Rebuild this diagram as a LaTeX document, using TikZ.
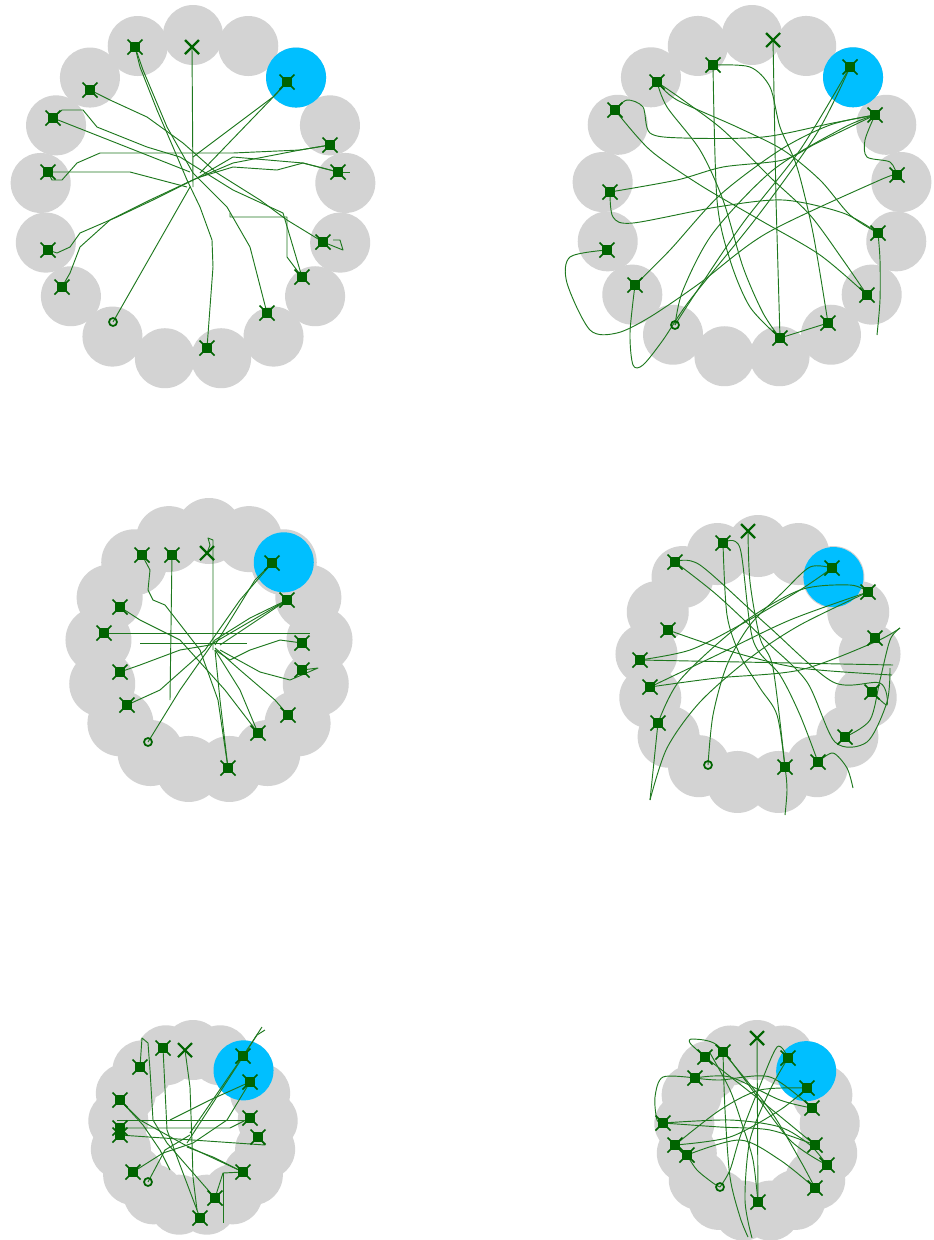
\documentclass[tikz,border=0pt]{standalone}
\usepackage{tikz}

\definecolor{ringgray}{RGB}{211,211,211}
\definecolor{goalblue}{RGB}{0,191,255}
\definecolor{pathgreen}{RGB}{30,120,30}
\definecolor{markgreen}{RGB}{0,100,0}

\tikzset{
  traj/.style={pathgreen, line width=0.7pt, line join=round},
  hitmark/.pic={
    \fill[markgreen] (-5,-5) rectangle (5,5);
    \draw[markgreen, line width=1.3pt] (-7.5,-7.5) -- (7.5,7.5) (-7.5,7.5) -- (7.5,-7.5);
  },
  endmark/.pic={
    \draw[markgreen, line width=1.6pt] (-7,-7) -- (7,7) (-7,7) -- (7,-7);
  },
  homemark/.pic={
    \draw[markgreen, line width=1.3pt] (0,0) circle [radius=4];
  }
}

% ring of 17 grey discs, the goal disc in light blue
% #1,#2 centre, #3,#4 ring radii, #5 disc radius
\newcommand{\ringpanel}[5]{%
  \foreach \k in {0,...,16}
    \fill[ringgray] ({#1+#3*cos(90+\k*360/17)},{#2-#4*sin(90+\k*360/17)})
      circle [radius=#5];
  \fill[goalblue] ({#1+#3*cos(47.65)},{#2-#4*sin(47.65)}) circle [radius=30];
}

\begin{document}
\begin{tikzpicture}[x=0.75pt, y=-0.75pt]

\useasboundingbox (0,0) rectangle (933,1240);

% The six arenas (pixel coordinates, y downwards)
\ringpanel{193}{198}{153}{163}{30}
\ringpanel{752}{197}{150}{162}{30}
\ringpanel{209}{651}{111}{120}{33}
\ringpanel{758}{665}{112}{119}{31}
\ringpanel{193}{1128}{75}{78}{30}
\ringpanel{757}{1131}{73}{81}{30}

% ---------------------------------------------------------------
% Panel a (top left)
\coordinate (a0)  at (192,47);
\coordinate (ao)  at (113,322);
\coordinate (ag)  at (287,82);
\coordinate (a1)  at (135,47);
\coordinate (a2)  at (90,90);
\coordinate (a3)  at (53,118);
\coordinate (a4)  at (48,172);
\coordinate (a5)  at (48,250);
\coordinate (a6)  at (62,287);
\coordinate (a7)  at (207,348);
\coordinate (a8)  at (267,313);
\coordinate (a9)  at (302,277);
\coordinate (a10) at (323,242);
\coordinate (a11) at (338,172);
\coordinate (a12) at (330,145);

\draw[traj] (a0) -- (193,187);
\draw[traj] (a1) -- (140,67) -- (157,110) -- (173,147) -- (187,180)
            -- (200,207) -- (212,240) -- (213,267) -- (a7);
\draw[traj] (a1) -- (143,70) -- (167,127) -- (193,173) -- (227,207)
            -- (250,247) -- (a8);
\draw[traj] (a2) -- (110,100) -- (147,117) -- (183,143) -- (217,173)
            -- (260,200) -- (287,220) -- (a10);
\draw[traj] (a3) -- (62,110) -- (83,110) -- (97,127) -- (147,147)
            -- (180,157) -- (233,190) -- (283,213) -- (a9);
\draw[traj] (a3) -- (190,172);
\draw[traj] (a4) -- (52,180) -- (62,180) -- (77,163) -- (100,153)
            -- (233,153) -- (300,150) -- (a12);
\draw[traj] (a4) -- (130,172) -- (187,187);
\draw[traj] (a5) -- (57,253) -- (70,247) -- (80,233) -- (117,217)
            -- (153,200) -- (193,180) -- (233,163) -- (300,150) -- (a12);
\draw[traj] (a6) -- (70,273) -- (80,247) -- (110,220) -- (150,200)
            -- (197,178) -- (233,157) -- (303,163) -- (a11);
\draw[traj] (ao) -- (190,187);
\draw[traj] (a11) -- (350,172);
\draw[traj] (a9) -- (287,257) -- (287,217) -- (230,217) -- (230,213);
\draw[traj] (a10) -- (343,250) -- (340,240) -- (333,240);
\draw[traj] (ag) -- (273,97) -- (233,127) -- (193,157);
\draw[traj] (ag) -- (280,90) -- (200,173);
\draw[traj] (a11) -- (303,163) -- (277,170) -- (233,167) -- (200,177);

% ---------------------------------------------------------------
% Panel b (top right)
\coordinate (b0)  at (773,40);
\coordinate (bo)  at (675,325);
\coordinate (bg)  at (850,67);
\coordinate (b1)  at (713,65);
\coordinate (b2)  at (657,82);
\coordinate (b3)  at (615,110);
\coordinate (b4)  at (610,192);
\coordinate (b5)  at (607,250);
\coordinate (b6)  at (635,285);
\coordinate (b7)  at (780,338);
\coordinate (b8)  at (828,323);
\coordinate (b9)  at (867,295);
\coordinate (b10) at (878,233);
\coordinate (b11) at (897,175);
\coordinate (b12) at (875,115);

\draw[traj] (b0) -- (776,200) -- (b7);
\draw[traj] plot[smooth] coordinates {(b1) (717,200) (730,260) (750,307) (b7)};
\draw[traj] plot[smooth] coordinates {(b1) (750,67) (770,87) (780,127)
            (797,167) (813,233) (b8)};
\draw[traj] plot[smooth] coordinates {(b2) (667,107) (700,150) (723,200)
            (743,267) (763,313) (b7)};
\draw[traj] plot[smooth] coordinates {(b2) (677,100) (737,127) (783,150)
            (820,180) (850,215) (b10)};
\draw[traj] plot[smooth] coordinates {(b3) (627,100) (643,107) (650,133)
            (683,138) (763,137) (833,123) (b12)};
\draw[traj] plot[smooth] coordinates {(b3) (650,150) (700,185) (760,220)
            (820,255) (b9)};
\draw[traj] plot[smooth] coordinates {(b4) (677,180) (723,167) (783,160)
            (817,143) (b12)};
\draw[traj] plot[smooth] coordinates {(b4) (613,217) (633,223) (717,207)
            (783,200) (843,213) (b10)};
\draw[traj] plot[smooth] coordinates {(b5) (570,257) (567,283) (590,330)
            (617,333) (650,317) (700,283) (767,233) (880,180) (b11)};
\draw[traj] plot[smooth] coordinates {(b6) (630,333) (633,365) (643,365)
            (663,340) (690,300) (757,217) (817,133) (bg)};
\draw[traj] plot[smooth] coordinates {(bo) (693,297) (743,223) (800,150) (bg)};
\draw[traj] plot[smooth] coordinates {(b12) (865,140) (867,157) (890,162) (b11)};
\draw[traj] plot[smooth] coordinates {(b10) (880,260) (880,300) (877,335)};
\draw[traj] plot[smooth] coordinates {(b9) (843,260) (810,215) (770,177)
            (723,130) (683,100) (b2)};
\draw[traj] plot[smooth] coordinates {(b12) (830,125) (780,150) (720,195)
            (670,250) (b6)};
\draw[traj] plot[smooth] coordinates {(b12) (843,128) (773,170) (713,233)
            (683,290) (bo)};
\draw[traj] (b7) -- (b8);

% ---------------------------------------------------------------
% Panel c (middle left)
\coordinate (c0)  at (207,553);
\coordinate (co)  at (148,742);
\coordinate (cg)  at (272,563);
\coordinate (c1)  at (142,555);
\coordinate (c2)  at (172,555);
\coordinate (c3)  at (287,600);
\coordinate (c4)  at (120,607);
\coordinate (c5)  at (104,633);
\coordinate (c6)  at (302,643);
\coordinate (c7)  at (120,672);
\coordinate (c8)  at (302,670);
\coordinate (c9)  at (127,705);
\coordinate (c10) at (288,715);
\coordinate (c11) at (258,733);
\coordinate (c12) at (228,768);

\draw[traj] (c0) -- (210,545) -- (208,538) -- (213,540) -- (213,650);
\draw[traj] (c5) -- (310,633);
\draw[traj] (140,643) -- (247,643);
\draw[traj] (c2) -- (170,700);
\draw[traj] (c1) -- (150,570) -- (148,590) -- (153,600) -- (165,605)
            -- (200,650) -- (218,700) -- (c12);
\draw[traj] (c4) -- (140,620) -- (180,640) -- (225,690) -- (c11);
\draw[traj] (c7) -- (140,665) -- (180,650) -- (210,645) -- (c3);
\draw[traj] (c9) -- (160,690) -- (205,650) -- (240,600) -- (cg);
\draw[traj] (co) -- (180,690) -- (215,640) -- (250,618) -- (c3);
\draw[traj] (c12) -- (220,700) -- (215,650);
\draw[traj] (c11) -- (240,690) -- (215,650);
\draw[traj] (c10) -- (275,700) -- (240,670) -- (215,648);
\draw[traj] (c8) -- (318,668) -- (290,680) -- (260,672) -- (220,650);
\draw[traj] (c6) -- (280,640) -- (250,650) -- (230,660) -- (215,650);
\draw[traj] (c3) -- (265,615) -- (220,645);
\draw[traj] (cg) -- (255,580) -- (215,645);

% ---------------------------------------------------------------
% Panel d (middle right)
\coordinate (d0)  at (748,531);
\coordinate (do)  at (708,765);
\coordinate (dg)  at (832,568);
\coordinate (d1)  at (723,543);
\coordinate (d2)  at (675,562);
\coordinate (d3)  at (868,592);
\coordinate (d4)  at (668,630);
\coordinate (d5)  at (875,638);
\coordinate (d6)  at (640,660);
\coordinate (d7)  at (650,687);
\coordinate (d8)  at (872,692);
\coordinate (d9)  at (658,723);
\coordinate (d10) at (845,737);
\coordinate (d11) at (818,762);
\coordinate (d12) at (785,767);

\draw[traj] plot[smooth] coordinates {(d1) (727,615) (740,655) (760,688)
            (777,715) (d12) (787,790) (785,815)};
\draw[traj] plot[smooth] coordinates {(d1) (740,548) (753,640) (780,675)
            (800,715) (d11)};
\draw[traj] plot[smooth] coordinates {(d0) (750,582) (760,638) (773,668) (d12)};
\draw[traj] plot[smooth] coordinates {(d2) (700,565) (767,625) (833,682)
            (880,683) (887,705) (d8)};
\draw[traj] plot[smooth] coordinates {(d2) (717,595) (767,642) (807,682)
            (835,742) (867,742) (887,702) (890,668)};
\draw[traj] plot[smooth] coordinates {(d4) (733,652) (800,668) (892,675)};
\draw[traj] (d6) -- (893,665);
\draw[traj] plot[smooth] coordinates {(d7) (717,678) (800,670) (875,642) (900,628)};
\draw[traj] plot[smooth] coordinates {(d7) (717,655) (790,620) (d3)};
\draw[traj] (d9) -- (650,800);
\draw[traj] plot[smooth] coordinates {(650,800) (667,748) (700,702) (750,658)
            (800,625) (d3)};
\draw[traj] plot[smooth] coordinates {(do) (713,715) (727,665) (750,625)
            (783,592) (810,567) (dg)};
\draw[traj] plot[smooth] coordinates {(dg) (800,590) (740,625) (690,650) (d6)};
\draw[traj] plot[smooth] coordinates {(d11) (833,753) (847,768) (853,788)};
\draw[traj] plot[smooth] coordinates {(d10) (870,720) (880,680) (890,640) (900,628)};
\draw[traj] plot[smooth] coordinates {(d3) (850,585) (800,590) (740,625) (680,680) (d9)};

% ---------------------------------------------------------------
% Panel e (bottom left)
\coordinate (e0)  at (185,1050);
\coordinate (eo)  at (148,1182);
\coordinate (eg)  at (243,1056);
\coordinate (e1)  at (163,1048);
\coordinate (e2)  at (140,1067);
\coordinate (e3)  at (250,1082);
\coordinate (e4)  at (120,1100);
\coordinate (e5)  at (250,1118);
\coordinate (e6)  at (120,1128);
\coordinate (e7)  at (120,1135);
\coordinate (e8)  at (258,1137);
\coordinate (e9)  at (133,1172);
\coordinate (e10) at (243,1172);
\coordinate (e11) at (215,1198);
\coordinate (e12) at (200,1218);

\draw[traj] (e0) -- (190,1087) -- (192,1143) -- (193,1177) -- (197,1210);
\draw[traj] (e1) -- (167,1130) -- (180,1165) -- (e12);
\draw[traj] (e2) -- (142,1038) -- (148,1043) -- (150,1070)
            -- (153,1120) -- (167,1143) -- (e11);
\draw[traj] (e4) -- (140,1120) -- (185,1145) -- (e10);
\draw[traj] (117,1120) -- (247,1120);
\draw[traj] (e6) -- (230,1128) -- (e5);
\draw[traj] (e7) -- (265,1145) -- (e8);
\draw[traj] (e9) -- (163,1153) -- (193,1143) -- (227,1120) -- (e3);
\draw[traj] (eo) -- (165,1150) -- (190,1135);
\draw[traj] (e11) -- (223,1173) -- (e10);
\draw[traj] (223,1173) -- (223,1223);
\draw[traj] (265,1030) -- (257,1035) -- (187,1143);
\draw[traj] (262,1027) -- (eg) -- (190,1133);
\draw[traj] (e4) -- (143,1125) -- (160,1150) -- (170,1170);
\draw[traj] (e3) -- (210,1100) -- (170,1120);
\draw[traj] (e10) -- (213,1157) -- (187,1147);

% ---------------------------------------------------------------
% Panel f (bottom right)
\coordinate (f0)  at (757,1038);
\coordinate (fo)  at (720,1187);
\coordinate (fg)  at (788,1058);
\coordinate (f1)  at (723,1052);
\coordinate (f2)  at (705,1057);
\coordinate (f3)  at (695,1078);
\coordinate (f4)  at (807,1088);
\coordinate (f5)  at (812,1108);
\coordinate (f6)  at (663,1123);
\coordinate (f7)  at (675,1145);
\coordinate (f8)  at (815,1145);
\coordinate (f9)  at (687,1155);
\coordinate (f10) at (827,1165);
\coordinate (f11) at (815,1188);
\coordinate (f12) at (758,1202);

\draw[traj] (f0) -- (f12);
\draw[traj] plot[smooth] coordinates {(f1) (725,1110) (730,1177) (740,1217) (748,1237)};
\draw[traj] plot[smooth] coordinates {(f2) (690,1043) (693,1039) (717,1045)
            (745,1080) (790,1140) (f10)};
\draw[traj] plot[smooth] coordinates {(f3) (663,1077) (655,1097) (657,1120) (f6)};
\draw[traj] plot[smooth] coordinates {(f3) (730,1077) (780,1100) (f5)};
\draw[traj] plot[smooth] coordinates {(f6) (730,1120) (780,1127) (810,1145) (f10)};
\draw[traj] plot[smooth] coordinates {(f7) (730,1137) (780,1110) (f4)};
\draw[traj] plot[smooth] coordinates {(f9) (697,1170) (713,1183) (fo)};
\draw[traj] plot[smooth] coordinates {(fo) (730,1170) (740,1137) (757,1093)
            (777,1047) (fg)};
\draw[traj] plot[smooth] coordinates {(f12) (753,1160) (743,1127) (730,1090) (710,1053)};
\draw[traj] plot[smooth] coordinates {(f4) (760,1090) (720,1110) (f7)};
\draw[traj] plot[smooth] coordinates {(f8) (770,1130) (720,1127) (f6)};
\draw[traj] plot[smooth] coordinates {(f11) (780,1160) (740,1140) (f9)};
\draw[traj] plot[smooth] coordinates {(f5) (770,1077) (720,1080) (f3)};
\draw[traj] plot[smooth] coordinates {(fg) (770,1090) (750,1140) (745,1200) (752,1238)};
\draw[traj] plot[smooth] coordinates {(f2) (760,1100) (f8)};
\draw[traj] plot[smooth] coordinates {(f1) (770,1110) (800,1160) (f11)};

% ---------------------------------------------------------------
% Marks on top of the trajectories
\foreach \m in {a1,a2,a3,a4,a5,a6,a7,a8,a9,a10,a11,a12,ag,
                b1,b2,b3,b4,b5,b6,b7,b8,b9,b10,b11,b12,bg,
                c1,c2,c3,c4,c5,c6,c7,c8,c9,c10,c11,c12,cg,
                d1,d2,d3,d4,d5,d6,d7,d8,d9,d10,d11,d12,dg,
                e1,e2,e3,e4,e5,e6,e7,e8,e9,e10,e11,e12,eg,
                f1,f2,f3,f4,f5,f6,f7,f8,f9,f10,f11,f12,fg}
  \pic at (\m) {hitmark};
\foreach \m in {a0,b0,c0,d0,e0,f0}
  \pic at (\m) {endmark};
\foreach \m in {ao,bo,co,do,eo,fo}
  \pic at (\m) {homemark};

\end{tikzpicture}
\end{document}
